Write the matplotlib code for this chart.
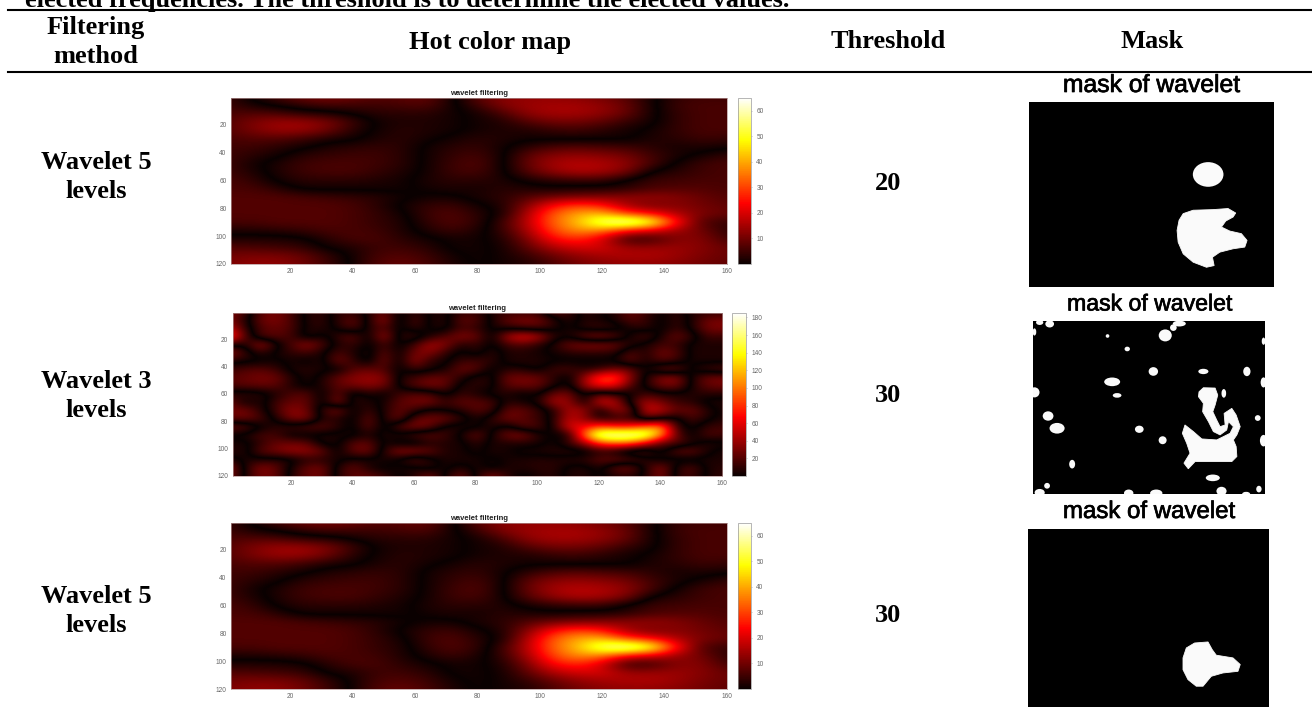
import numpy as np
import matplotlib
matplotlib.use("Agg")
import matplotlib.pyplot as plt
import matplotlib.patheffects as pe
from matplotlib.cm import ScalarMappable
from matplotlib.colors import ListedColormap, Normalize
from matplotlib.patches import Ellipse, Rectangle

W, H = 1312, 707

headers = ["Hot color map", "Threshold", "Mask"]
methods = ["Wavelet 5\nlevels", "Wavelet 3\nlevels", "Wavelet 5\nlevels"]
thresholds = ["20", "30", "30"]
caption = "elected frequencies. The threshold is to determine the elected values."

x_ticks = [20, 40, 60, 80, 100, 120, 140, 160]
y_ticks = [20, 40, 60, 80, 100, 120]
cbar_ticks_5 = [10, 20, 30, 40, 50, 60]
cbar_ticks_3 = [20, 40, 60, 80, 100, 120, 140, 160, 180]

# wavelet 5 levels, read every 8 columns and 6 rows
# sign = phase of the lobe, the map shows the magnitude so the black ridges are the sign changes
wav5 = [
    [5, -1, -6, -10, -11, -10, -7, -8, -9, -1, 8, 12, 13, 13, 12, 10, 7, 1, -4, -5, -5],
    [5, 1, -1, -4, -6, -5, -5, -6, -7, -1, 5, 12, 14, 15, 15, 13, 9, 1, -5, -6, -6],
    [6, 7, 6, 3, 2, -1, -3, -3, -3, -1, 1, 6, 13, 15, 15, 13, 9, 1, -4, -6, -6],
    [7, 11, 14, 14, 11, 5, -1, -2, -2, -1, 1, 2, 7, 10, 10, 8, 4, 1, -4, -6, -6],
    [7, 11, 14, 14, 10, 3, -1, -3, -2, -1, 1, 2, 2, 4, 5, 3, 1, -1, -4, -6, -6],
    [6, 7, 7, 5, 2, 1, -2, -3, -1, 1, 3, 2, 1, 1, 1, 1, 1, -2, -3, -5, -4],
    [5, 5, 3, 1, -2, -3, -4, -3, 1, 3, 4, 1, -3, -6, -7, -6, -5, -3, -1, -2, -1],
    [5, 3, 1, -3, -4, -5, -5, -3, 1, 4, 6, 1, -8, -12, -13, -12, -10, -5, -2, 1, 4],
    [5, 1, -2, -5, -6, -6, -5, -3, 1, 5, 7, 1, -9, -15, -17, -16, -13, -6, 1, 5, 6],
    [5, 2, -2, -5, -6, -6, -4, -2, 1, 5, 6, 1, -7, -13, -16, -15, -11, 1, 3, 5, 6],
    [6, 4, -1, -3, -3, -3, -2, -1, 2, 3, 3, 2, -1, -3, -4, -4, 1, 5, 5, 6, 6],
    [6, 6, 3, -1, -1, -1, -1, -1, 1, 2, 1, 3, 2, 1, 2, 2, 3, 6, 7, 7, 6],
    [7, 7, 7, 6, 5, 4, 3, 1, -1, -1, 2, 3, 7, 10, 11, 12, 13, 14, 12, 9, 7],
    [7, 7, 7, 7, 7, 6, 3, -1, -4, -5, -1, 2, 12, 24, 30, 26, 14, 10, 12, 10, 8],
    [7, 7, 7, 7, 7, 6, 4, 1, -5, -7, -3, 1, 16, 32, 40, 42, 30, 24, 16, 11, 9],
    [6, 6, 7, 7, 7, 6, 4, 2, -4, -7, -4, 5, 17, 33, 42, 58, 65, 55, 25, 6, 4],
    [2, 2, 3, 4, 6, 6, 5, 2, -2, -5, -2, 4, 15, 30, 38, 36, 24, 20, 14, 10, 3],
    [-2, -2, -2, -1, 3, 6, 6, 3, 1, -1, -1, 2, 11, 24, 28, 20, 3, 4, 12, 12, 5],
    [-7, -6, -5, -4, 1, 2, 5, 5, 3, -1, -1, 1, 8, 16, 20, 20, 14, 14, 14, 12, 9],
    [-10, -11, -11, -9, -4, 1, 6, 7, 5, 1, -1, 1, 4, 9, 13, 15, 16, 16, 14, 11, 9],
    [-11, -13, -13, -10, -5, 1, 7, 9, 6, 2, -1, 1, 2, 6, 10, 12, 13, 13, 12, 10, 8],
]

# wavelet 3 levels, read every 5 columns and 6 rows
wav3 = [
    [35, 15, -20, -30, -15, 5, 10, -8, -10, 5, 25, -5, 10, -3, -5, 10, 10, -5, -10, -10, -10, 25, 15, -10, -3, 5, 25, 15, -3, 10, -8, -8, -10],
    [30, 8, -28, -32, -18, 6, 12, -10, -25, 4, 42, -12, 20, -4, -8, 25, 20, -4, -25, -32, -30, -10, 10, -6, -3, 5, 22, 12, -4, 14, -5, -28, -30],
    [50, 10, -18, -25, -18, 5, 8, -4, -20, 6, 20, -4, 12, -3, -6, 15, 10, -3, -8, -15, -18, -6, 3, -10, -15, -10, 4, 10, -4, 12, -5, -30, -32],
    [85, 20, -20, -22, -15, 10, -5, 12, 25, -6, 45, -10, -15, 5, 20, 35, 28, -5, 45, 65, 50, 10, 3, 30, 38, 25, -5, -20, 5, 28, 10, -15, -12],
    [6, 3, 45, 6, -18, -40, -18, 5, 12, -4, 15, -4, 15, 45, 35, 5, 12, -4, 15, 20, 8, -6, -28, -35, -35, -30, -8, 5, 15, 12, -5, -5, -5],
    [-40, -12, 10, -4, -10, -15, -3, 18, 6, -10, 25, -3, 30, 35, 10, -5, 8, -10, 5, 5, 3, -3, -8, -10, -10, -8, 22, 4, 30, 20, -6, -5, -5],
    [-5, -4, -3, 3, -4, 5, -8, 30, 12, -8, 30, -5, 40, 8, 3, -12, -15, -10, 6, 8, 6, 3, 3, 3, 3, 4, 25, 3, 20, 12, -5, -5, -6],
    [12, 18, 22, 12, -5, -10, -3, -5, 20, 25, 18, -3, 12, 5, -3, -28, -22, 5, -8, -6, 5, -15, -18, -6, -12, -28, -25, 3, -28, -30, 5, 15, 22],
    [22, 25, 30, 28, 8, -6, 5, 25, 35, 40, 35, -4, -15, -25, -25, -8, 10, 5, -28, -30, -28, -8, 6, -40, -85, -90, -35, 5, 35, 38, -6, -28, -30],
    [18, 22, 25, 22, 5, -5, 6, 22, 30, 35, 30, -4, -22, -32, -25, 6, 8, 5, -22, -28, -25, -6, 6, -40, -70, -65, -20, 5, 28, 30, -5, -25, -28],
    [-8, -12, -8, 5, 18, 22, -6, 25, -10, 6, -4, 15, 20, 18, -5, 12, 5, -6, -6, 5, -4, 28, 30, -4, 20, 8, 2, -15, -6, -5, -6, -8, -6],
    [-25, 3, -8, 15, 25, 25, -6, 38, -8, -6, 4, 22, 30, 32, 12, 25, 22, 18, -8, -3, 5, 45, 40, -3, 58, 52, -10, -45, -30, -12, -8, 6, 6],
    [-28, -30, -8, 15, 38, 28, -12, -35, 6, -14, 5, 25, 12, -6, 3, 6, 22, 15, -25, -25, -12, 5, 45, 42, -5, 40, 32, -55, -50, -25, -28, -8, 5],
    [-25, -28, -18, 5, 32, 35, -8, -6, 5, -25, 5, 30, -22, -30, -30, -10, 5, -10, -30, -22, -12, 6, 50, 35, 4, 6, 8, -20, -5, 5, -18, -4, 5],
    [30, 22, 3, -10, -14, -22, -22, -10, 5, -25, 8, -25, -35, -25, 6, 7, 5, -8, 6, -22, -18, 5, 60, 65, 90, 78, 78, 100, 110, 10, -5, 12, 15],
    [-5, -5, -18, -15, 4, 5, 5, 5, 5, -5, 5, 8, 20, 25, 15, -4, -28, 3, 30, 35, 8, -4, 3, 100, 175, 180, 180, 170, 110, 25, -4, 20, 15],
    [3, 5, -10, -25, -28, -25, 6, 4, -22, -25, 5, -8, -10, 6, 5, 5, -10, 5, 4, 6, 4, -4, 15, 40, 85, 100, 95, 60, 20, 20, 8, -8, -5],
    [8, 6, -22, -30, -40, -38, -28, 5, -25, -30, 8, 40, 38, 25, 6, 4, -5, 6, 3, -5, -6, -8, -12, -8, 5, -4, -25, -25, 5, -25, -28, -4, 6],
    [-6, 5, 5, 8, 6, -8, -5, -6, 6, 5, 5, -5, -25, -6, 5, 5, 5, -4, 4, 5, 8, 6, 10, 10, 25, 30, 25, 10, -5, 8, 8, 5, 5],
    [-38, 5, 35, 25, -5, -25, -30, 8, 25, 5, -5, 5, 4, -8, 6, -8, 6, -5, 5, 6, 8, 10, -5, -6, 5, -25, -30, 6, 38, -8, -22, 5, 8],
    [-32, 5, 30, 25, -8, -25, -28, 8, 22, 25, 15, -5, 8, 32, -4, -30, 4, 35, 10, -5, 5, 8, -5, -8, 6, -6, -8, 5, 35, -10, -15, 5, 10],
]

# mask outlines, in the same column / row units as the maps
m1_blob_x = [100.7, 107.2, 120.2, 130, 135, 133.3, 128.5, 125.7, 131.1, 138.7, 142.4, 140.9, 133.3, 124.6, 119.8, 120.9, 115.9, 107.2, 100.7, 97.4, 96.7, 98]
m1_blob_y = [72.4, 70.2, 69.8, 69.1, 72, 74.6, 77.2, 81.1, 83.7, 85.4, 89.8, 94.1, 95.2, 97.4, 100.7, 106.1, 107.2, 103.9, 98.5, 90.9, 83.3, 76.7]
m1_spots = [(117, 47, 20, 16)]

m3_blob_x = [102.9, 105.1, 110.6, 119.5, 122.3, 125, 136.1, 140.9, 139.4, 129.4, 121.7, 116.2, 111.7, 106.2, 102.9]
m3_blob_y = [85.6, 79, 75.7, 75, 80.1, 83.8, 85.6, 90, 94.5, 95.6, 97.8, 104.4, 104.4, 100, 93.4]

m2_blob_x = [114.5, 117.5, 125.6, 127.4, 125.6, 124, 126.7, 129, 132.5, 131.8, 137.1, 140.1, 142.9, 140.6, 138.2, 140.1, 140.6, 137.1, 111.8, 107.1, 104.1, 108.3, 106, 103, 104.8, 110.6, 116.4, 126.7, 135.9, 138.2, 134.8, 133.6, 129, 124.4, 121, 117, 117.5, 114.1]
m2_blob_y = [49.1, 46.3, 46.5, 51.4, 58.3, 62.9, 68.7, 73.3, 72.1, 64.1, 60.6, 65.2, 73.3, 79, 82.5, 87.1, 94, 97.5, 97.5, 102.5, 98.6, 91.7, 84.8, 77.9, 72.1, 76.7, 81.8, 82.5, 77.9, 73.3, 69.8, 75.6, 79, 76.7, 69.8, 62.9, 57.1, 52.5]
m2_spots = [
    (51.4, 10.4, 2.5, 2.5), (65, 19.4, 3.7, 3.2), (83, 35, 6.5, 6), (54.6, 42.2, 11, 6),
    (58, 51.6, 6, 3.2), (117.5, 35, 7, 3.7), (147.5, 35, 5, 6.5), (131.6, 50.2, 3.2, 6),
    (10.4, 65.9, 7.4, 6.5), (16.6, 74.4, 10.4, 7.4), (73.3, 75.1, 6, 5), (89.4, 82.7, 5.5, 5.5),
    (155, 67.3, 4, 4), (27, 99.3, 4.1, 6), (9.7, 114.3, 4, 4), (124, 108.8, 9.7, 4.6),
    (155.8, 116.6, 3.7, 4.6), (1, 49.5, 7, 7), (4.6, 119, 7, 5), (66, 119.4, 6.5, 5),
    (85, 119.4, 8.5, 5), (130, 118, 7, 6), (147, 120, 5.5, 3), (159, 14, 2.5, 5),
    (159, 42.6, 4, 7), (159, 83, 5, 8), (11.5, 2, 6, 5), (4.6, 1, 5, 3.5), (1, 7.6, 2.5, 5),
    (91.2, 10, 9, 8.3), (100.9, 1.8, 9, 4), (96.8, 4.6, 4.6, 4.6),
]

plt.rcParams["font.family"] = ["Liberation Serif", "DejaVu Sans"]
fig = plt.figure(figsize=(W / 100, H / 100), dpi=100, facecolor="white")

# hot mirrored round zero, so signed values show as their magnitude
hot = plt.get_cmap("hot")(np.linspace(0, 1, 256))
mirror_hot = ListedColormap(np.vstack([hot[::-1], hot]))


def px_axes(x0, y0, x1, y1):
    return fig.add_axes([x0 / W, 1 - y1 / H, (x1 - x0) / W, (y1 - y0) / H])


def px_text(x, y, s, **kw):
    kw.setdefault("fontsize", 19)
    kw.setdefault("fontweight", "bold")
    return fig.text(x / W, 1 - y / H, s, ha="center", va="center", color="black", linespacing=1.33, **kw)


def heat_panel(box, cbox, data, step_x, step_y, vmax, cticks):
    ax = px_axes(*box)
    arr = np.array(data, dtype=float)
    ax.imshow(arr, cmap=mirror_hot, vmin=-vmax, vmax=vmax, aspect="auto", interpolation="bicubic",
              interpolation_stage="data",
              extent=[-step_x / 2, 160 + step_x / 2, 120 + step_y / 2, -step_y / 2])
    ax.set_xlim(1, 160)
    ax.set_ylim(120, 1)
    ax.set_xticks(x_ticks)
    ax.set_yticks(y_ticks)
    ax.tick_params(length=0, labelsize=4.7, labelcolor="#666666", pad=3)
    for s in ax.spines.values():
        s.set_color("#b09090")
        s.set_linewidth(0.5)
    ax.set_title("wavelet filtering", fontsize=5.5, fontweight="bold", family="Liberation Sans", pad=2.5, color="#222222")
    for t in ax.get_xticklabels() + ax.get_yticklabels():
        t.set_family("Liberation Sans")
    cax = px_axes(*cbox)
    cb = fig.colorbar(ScalarMappable(Normalize(0, vmax), "hot"), cax=cax, ticks=cticks)
    cb.ax.tick_params(length=1, width=0.4, color="#999999", labelsize=4.7, labelcolor="#666666", pad=3)
    for t in cb.ax.get_yticklabels():
        t.set_family("Liberation Sans")
    cb.outline.set_edgecolor("#999999")
    cb.outline.set_linewidth(0.5)


def mask_panel(box, title_xy, title_size, blob_x, blob_y, spots, row_max=120):
    ax = px_axes(*box)
    ax.set_facecolor("black")
    ax.fill(blob_x, blob_y, color="#fafafa", lw=0.6)
    for cx, cy, w, h in spots:
        ax.add_patch(Ellipse((cx, cy), w, h, color="#fafafa", lw=0))
    ax.set_xlim(0, 160)
    ax.set_ylim(row_max, 0)
    ax.set_xticks([])
    ax.set_yticks([])
    for s in ax.spines.values():
        s.set_visible(False)
    t = px_text(title_xy[0], title_xy[1], "mask of wavelet", fontsize=title_size, fontweight="normal",
                family="Liberation Sans")
    t.set_path_effects([pe.withStroke(linewidth=0.5, foreground="black")])


# table rules and text
fig.add_artist(plt.Line2D([8 / W, 1], [1 - 10 / H] * 2, color="black", lw=1.5))
fig.add_artist(plt.Line2D([8 / W, 1], [1 - 71.5 / H] * 2, color="black", lw=1.5))
fig.add_artist(Rectangle((1029 / W, 1 - 76 / H), 245 / W, 4 / H, color="white", transform=fig.transFigure, lw=0))

fig.text(25 / W, 1 - 0 / H, caption, ha="left", va="center", fontsize=19, fontweight="bold")
px_text(96, 42, "Filtering\nmethod")
px_text(490, 42, headers[0])
px_text(888, 42, headers[1])
px_text(1152, 42, headers[2])

for yy, m, t, ty in zip([177, 396, 611], methods, thresholds, [183, 396, 615]):
    px_text(96, yy, m)
    px_text(888, ty, t)

heat_panel((230.7, 98, 726.7, 264), (737.7, 98, 750.7, 264), wav5, 8, 6, 65, cbar_ticks_5)
heat_panel((232.5, 313, 722, 476), (732, 313, 746, 476), wav3, 5, 6, 185, cbar_ticks_3)
heat_panel((230.7, 523, 726.7, 689), (737.7, 523, 750.7, 689), wav5, 8, 6, 65, cbar_ticks_5)

mask_panel((1029, 102, 1274, 287), (1151.5, 85), 17.8, m1_blob_x, m1_blob_y, m1_spots)
mask_panel((1033, 321, 1265, 494), (1149.5, 304), 16.6, m2_blob_x, m2_blob_y, m2_spots)
mask_panel((1028, 529, 1269, 707), (1149, 512), 17.3, m3_blob_x, m3_blob_y, [], row_max=118.2)

fig.savefig("out.png", dpi=100)
